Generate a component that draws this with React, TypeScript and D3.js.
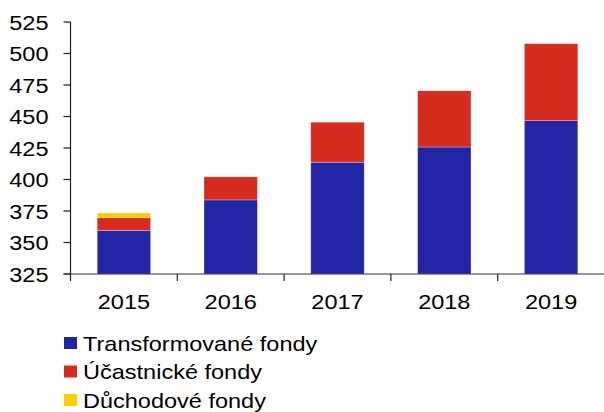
import React from "react";
import * as d3 from "d3";

const years = ["2015", "2016", "2017", "2018", "2019"];
const transformovane = [359.6, 383.8, 413.7, 425.8, 446.7];
const ucastnicke = [10.0, 18.3, 31.8, 44.6, 61.1];
const duchodove = [3.8, 0, 0, 0, 0];
const yTicks = [325, 350, 375, 400, 425, 450, 475, 500, 525];
const seriesNames = ["Transformované fondy", "Účastnické fondy", "Důchodové fondy"];
const colors = ["#2226A6", "#D62B1F", "#FFCC00"];

const W = 604;
const H = 412;
const FONT = "'Liberation Sans', Arial, sans-serif";
const SX = 1.12;

export default function App() {
  const rows = years.map((y, i) => ({
    year: y,
    s0: transformovane[i],
    s1: ucastnicke[i],
    s2: duchodove[i],
  }));
  const keys = ["s0", "s1", "s2"];
  const stack = d3.stack<any>().keys(keys);
  const stacked = stack(rows);

  const x = d3.scaleBand().domain(years).range([70.5, 604.5]).paddingInner(0.5).paddingOuter(0.25);
  const y = d3.scaleLinear().domain([325, 525]).range([274, 22]);
  const step = x.step();
  const x0 = 70.5;
  const baseY = y(325);

  return (
    <svg width={W} height={H} style={{ position: "absolute", left: 0, top: 0, background: "#fff" }}>
      <g>
        {stacked.map((layer, li) =>
          layer.map((d, i) => {
            const lo = li === 0 ? 325 : d[0];
            const y0 = y(lo);
            const y1 = y(d[1]);
            const h = y0 - y1;
            if (h <= 0) return null;
            return (
              <rect
                key={`${li}-${i}`}
                x={x(years[i])}
                y={y1}
                width={x.bandwidth()}
                height={h}
                fill={colors[li]}
                stroke="#ffffff"
                strokeOpacity={0.45}
                strokeWidth={0.6}
              />
            );
          })
        )}
      </g>
      {/* y axis */}
      <line x1={x0} x2={x0} y1={y(525)} y2={baseY} stroke="#222" strokeWidth={1.2} />
      {yTicks.map((t) => (
        <g key={t}>
          <line x1={x0 - 7} x2={x0} y1={y(t)} y2={y(t)} stroke="#222" strokeWidth={1.2} />
          <text
            transform={`translate(48.5,${y(t) + 7.5}) scale(${SX},1)`}
            textAnchor="end"
            fontFamily={FONT}
            fontSize={21}
            fill="#000"
          >
            {t}
          </text>
        </g>
      ))}
      {/* x axis */}
      <line x1={x0 - 7} x2={604} y1={baseY} y2={baseY} stroke="#333" strokeWidth={1.2} />
      {years.map((yr, i) => (
        <g key={yr}>
          <line x1={x0 + i * step} x2={x0 + i * step} y1={baseY} y2={baseY + 7} stroke="#222" strokeWidth={1.2} />
          <text
            transform={`translate(${(x(yr) as number) + x.bandwidth() / 2},309) scale(${SX},1)`}
            textAnchor="middle"
            fontFamily={FONT}
            fontSize={21}
            fill="#000"
          >
            {yr}
          </text>
        </g>
      ))}
      {/* legend */}
      {seriesNames.map((name, i) => (
        <g key={name}>
          <rect x={64} y={337 + i * 28.5} width={13} height={12} fill={colors[i]} />
          <text
            transform={`translate(83,${350.5 + i * 28.5}) scale(${SX},1)`}
            fontFamily={FONT}
            fontSize={21}
            fill="#000"
          >
            {name}
          </text>
        </g>
      ))}
    </svg>
  );
}
